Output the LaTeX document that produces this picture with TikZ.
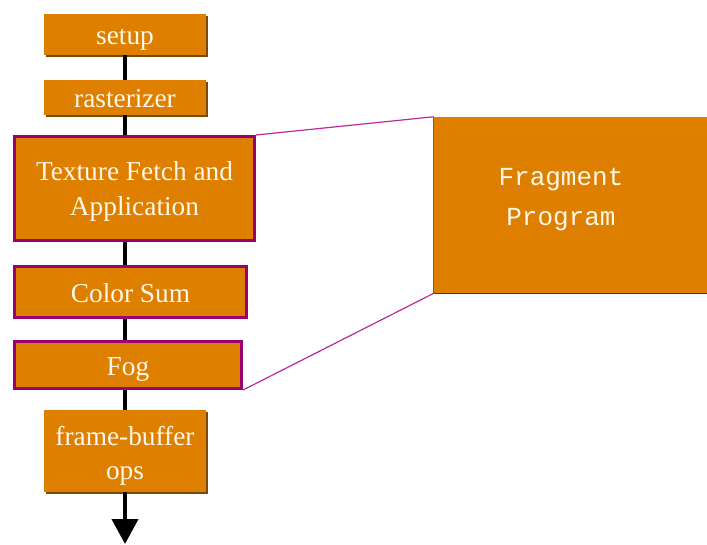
\documentclass[tikz,border=0pt]{standalone}
\usepackage{fontspec}
\setmainfont{Liberation Serif}
\setmonofont{Liberation Mono}
\usetikzlibrary{arrows.meta,shadows}
\definecolor{stageorange}{HTML}{DF7F00}
\definecolor{stageshadow}{HTML}{7A4A08}
\definecolor{stageborder}{HTML}{990073}
\definecolor{linkline}{HTML}{B82A9E}
\definecolor{stagetext}{HTML}{FFF8E8}
\tikzset{
  stagebox/.style={fill=stageorange, text=stagetext, inner sep=0pt, align=center,
    font=\fontsize{20.5pt}{25pt}\selectfont,
    drop shadow={shadow xshift=1.6pt, shadow yshift=-1.6pt, fill=stageshadow, opacity=1}},
  progbox/.style={fill=stageorange, draw=stageborder, line width=2.25pt, text=stagetext,
    inner sep=0pt, align=center, font=\fontsize{20.5pt}{26pt}\selectfont},
  oneline/.style={text height=15pt, text depth=0pt},
  spine/.style={line width=3pt, draw=black},
  link/.style={line width=0.9pt, draw=linkline},
}
\begin{document}
\begin{tikzpicture}[x=0.75pt, y=-0.75pt]
\useasboundingbox (0,0) rectangle (707,544);

% fixed-function stages
\node[stagebox, oneline, minimum width=121.5pt, minimum height=30.75pt] (setup) at (125,34.5) {setup};
\node[stagebox, oneline, minimum width=121.5pt, minimum height=26.25pt] (raster) at (125,97.5) {rasterizer};
\node[stagebox, minimum width=121.5pt, minimum height=61.5pt] (fbops) at (125,451) {\rule{0pt}{21.5pt}frame-buffer\\ops};

% stages replaced by the fragment program
\node[progbox, minimum width=180pt, minimum height=78pt] (texture) at (134.5,188.5) {\rule{0pt}{18.5pt}Texture Fetch and\\Application};
\node[progbox, oneline, minimum width=174pt, minimum height=38.25pt] (colorsum) at (130.5,292) {Color Sum};
\node[progbox, oneline, minimum width=170.25pt, minimum height=35.25pt] (fog) at (128,365) {Fog};

% fragment program block
\node[fill=stageorange, inner sep=0pt, minimum width=204.75pt, minimum height=132pt] (frag) at (570.5,205) {};
\draw[linkline, line width=0.8pt] (frag.north west) -- (frag.south west);
\draw[stageborder, line width=1pt] (frag.south west) -- (frag.south east);
\node[text=stagetext, align=center, font=\ttfamily\fontsize{19.5pt}{30pt}\selectfont] (fragtext) at (561,200) {Fragment\\Program};

% pipeline connectors
\coordinate (out) at (125,544);
\draw[spine] (setup.south) -- (setup.south |- raster.north);
\draw[spine] (raster.south) -- (raster.south |- texture.north);
\draw[spine] (raster.south |- texture.south) -- (raster.south |- colorsum.north);
\draw[spine] (raster.south |- colorsum.south) -- (raster.south |- fog.north);
\draw[spine] (raster.south |- fog.south) -- (fbops.north);
\draw[spine, -{Triangle[width=19.5pt, length=18.75pt]}] (fbops.south) -- (out);

% links to the fragment program
\draw[link] (texture.north east) -- (frag.north west);
\draw[link] (fog.south east) -- (frag.south west);
\end{tikzpicture}
\end{document}
